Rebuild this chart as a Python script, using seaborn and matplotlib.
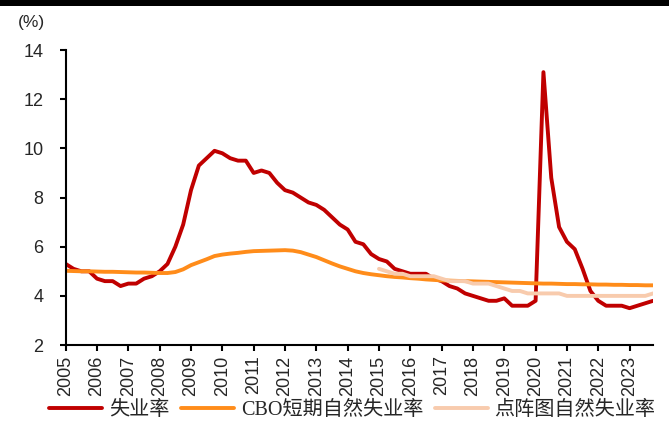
import pandas as pd
import matplotlib
matplotlib.use("Agg")
import matplotlib.pyplot as plt
import seaborn as sns
from matplotlib.lines import Line2D
from matplotlib.patches import Rectangle

# quarterly values, 2005Q1 .. 2023Q4
unemployment = [
    5.3, 5.1, 5.0, 5.0,    # 2005
    4.7, 4.6, 4.6, 4.4,    # 2006
    4.5, 4.5, 4.7, 4.8,    # 2007
    5.0, 5.3, 6.0, 6.9,    # 2008
    8.3, 9.3, 9.6, 9.9,    # 2009
    9.8, 9.6, 9.5, 9.5,    # 2010
    9.0, 9.1, 9.0, 8.6,    # 2011
    8.3, 8.2, 8.0, 7.8,    # 2012
    7.7, 7.5, 7.2, 6.9,    # 2013
    6.7, 6.2, 6.1, 5.7,    # 2014
    5.5, 5.4, 5.1, 5.0,    # 2015
    4.9, 4.9, 4.9, 4.7,    # 2016
    4.6, 4.4, 4.3, 4.1,    # 2017
    4.0, 3.9, 3.8, 3.8,    # 2018
    3.9, 3.6, 3.6, 3.6,    # 2019
    3.8, 13.1, 8.8, 6.8,   # 2020
    6.2, 5.9, 5.1, 4.2,    # 2021
    3.8, 3.6, 3.6, 3.6,    # 2022
    3.5, 3.6, 3.7, 3.8,    # 2023
]
cbo_natural = [
    5.02, 5.01, 5.00, 5.00,
    4.99, 4.98, 4.98, 4.97,
    4.96, 4.95, 4.95, 4.94,
    4.93, 4.93, 4.97, 5.08,
    5.25, 5.37, 5.49, 5.62,
    5.68, 5.72, 5.75, 5.79,
    5.82, 5.83, 5.84, 5.85,
    5.86, 5.84, 5.78, 5.68,
    5.58, 5.45, 5.32, 5.20,
    5.10, 5.00, 4.93, 4.88,
    4.84, 4.80, 4.77, 4.75,
    4.72, 4.70, 4.67, 4.65,
    4.63, 4.62, 4.61, 4.60,
    4.59, 4.58, 4.57, 4.56,
    4.55, 4.54, 4.53, 4.52,
    4.51, 4.50, 4.50, 4.49,
    4.48, 4.48, 4.47, 4.47,
    4.46, 4.46, 4.45, 4.45,
    4.44, 4.44, 4.43, 4.43,
]
# FOMC longer-run median, 2015Q1 .. 2023Q4
dot_plot_natural = [
    5.1, 5.0, 4.9, 4.9,
    4.8, 4.8, 4.8, 4.8,
    4.7, 4.6, 4.6, 4.6,
    4.5, 4.5, 4.5, 4.4,
    4.3, 4.2, 4.2, 4.1,
    4.1, 4.1, 4.1, 4.1,
    4.0, 4.0, 4.0, 4.0,
    4.0, 4.0, 4.0, 4.0,
    4.0, 4.0, 4.0, 4.1,
]

quarters = pd.period_range("2005Q1", "2023Q4", freq="Q")
dot_quarters = pd.period_range("2015Q1", "2023Q4", freq="Q")
year_ticks = list(range(2005, 2024))
y_ticks = [2, 4, 6, 8, 10, 12, 14]

series_names = ["失业率", "CBO短期自然失业率", "点阵图自然失业率"]
series_colors = ["#C00000", "#FF8C1A", "#F8CBAD"]


def to_year(periods):
    return periods.year + (periods.quarter - 1) / 4


def main():
    sns.set_style("white")
    plt.rcParams["font.family"] = ["Liberation Sans", "Noto Sans CJK SC"]

    df = pd.concat([
        pd.DataFrame({"x": to_year(quarters), "rate": unemployment, "series": series_names[0]}),
        pd.DataFrame({"x": to_year(quarters), "rate": cbo_natural, "series": series_names[1]}),
        pd.DataFrame({"x": to_year(dot_quarters), "rate": dot_plot_natural, "series": series_names[2]}),
    ], ignore_index=True)

    fig = plt.figure(figsize=(6.69, 4.26), dpi=100)
    ax = fig.add_axes([0.0982, 0.190, 0.878, 0.6926])

    sns.lineplot(data=df, x="x", y="rate", hue="series", hue_order=series_names,
                 palette=dict(zip(series_names, series_colors)), linewidth=2.8,
                 estimator=None, sort=False, legend=False, ax=ax,
                 solid_joinstyle="round", solid_capstyle="round")

    ax.set_xlim(2005, 2023.75)
    ax.set_ylim(2, 14)
    ax.set_xticks(year_ticks)
    ax.set_xticklabels([str(y) for y in year_ticks], rotation=90)
    ax.set_yticks(y_ticks)
    ax.set_xlabel("")
    ax.set_ylabel("")
    ax.tick_params(axis="x", length=4, width=1.5, pad=3.5, labelsize=13, color="black")
    ax.tick_params(axis="y", length=4, width=1.5, pad=12, labelsize=13, color="black")
    ax.tick_params(bottom=True, left=True)
    for side in ["top", "right"]:
        ax.spines[side].set_visible(False)
    for side in ["left", "bottom"]:
        ax.spines[side].set_color("black")
        ax.spines[side].set_linewidth(1.5)

    fig.text(0.047, 1 - 22 / 426, "(%)", fontsize=12.5, ha="center", va="center")
    fig.add_artist(Rectangle((0, 1 - 6 / 426), 1, 6 / 426, transform=fig.transFigure,
                             color="black", lw=0))

    handles = [Line2D([], [], color=c, linewidth=2.8) for c in series_colors]
    fig.legend(handles, series_names, loc="center", bbox_to_anchor=(0.527, 0.036),
               ncol=3, frameon=False, handlelength=2.6, handletextpad=0.35,
               columnspacing=0.6, prop={"family": ["Liberation Serif", "Noto Sans CJK SC"], "size": 14.5})

    fig.savefig("out.png", dpi=100)
    plt.close(fig)


if __name__ == "__main__":
    main()
